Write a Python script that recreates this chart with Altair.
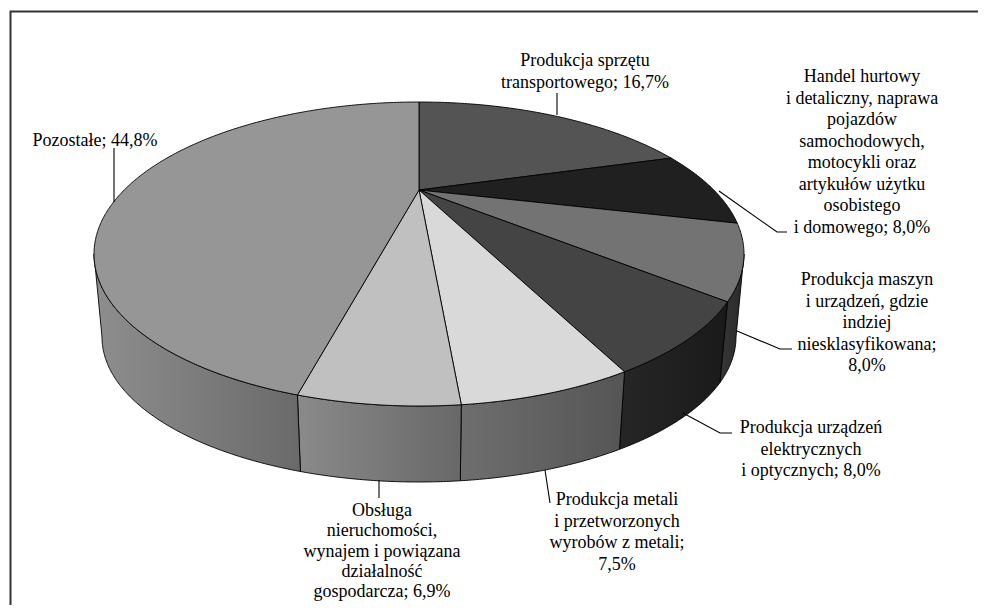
import math
import altair as alt

# ---------------- data ----------------
CATEGORIES = [
    "Produkcja sprzętu transportowego",
    "Handel hurtowy i detaliczny",
    "Produkcja maszyn i urządzeń",
    "Produkcja urządzeń elektrycznych i optycznych",
    "Produkcja metali i przetworzonych wyrobów z metali",
    "Obsługa nieruchomości",
    "Pozostałe",
]
SHARES = [16.7, 8.0, 8.0, 8.0, 7.5, 6.9, 44.8]
LABEL_LINES = [
    ["Produkcja sprzętu", "transportowego; {p}"],
    ["Handel hurtowy", "i detaliczny, naprawa", "pojazdów", "samochodowych,",
     "motocykli oraz", "artykułów użytku", "osobistego", "i domowego; {p}"],
    ["Produkcja  maszyn", "i urządzeń, gdzie", "indziej", "niesklasyfikowana;", "{p}"],
    ["Produkcja urządzeń", "elektrycznych", "i optycznych; {p}"],
    ["Produkcja metali", "i przetworzonych", "wyrobów z metali;", "{p}"],
    ["Obsługa", "nieruchomości,", "wynajem i powiązana", "działalność", "gospodarcza; {p}"],
    ["Pozostałe; {p}"],
]

# ---------------- styles / layout ----------------
TOP_COLORS = ["#545454", "#202020", "#737373", "#444444", "#d9d9d9", "#c0c0c0", "#969696"]
SIDE_COLORS = [("#3a3a3a", "#2a2a2a"), ("#1a1a1a", "#141414"), ("#363636", "#2a2a2a"),
               ("#262626", "#1a1a1a"), ("#6e6e6e", "#555555"), ("#8a8a8a", "#686868"),
               ("#8e8e8e", "#6a6a6a")]
LABEL_ANCHORS = [(585, 61), (862, 77), (867, 280), (811, 428), (617, 500), (382, 511), (95, 141)]
LABEL_LINE_H = [21.5, 21.5, 21.5, 21.5, 21.5, 20.25, 21.5]
LEADERS = [
    [(557, 93), (557, 115)],
    [(719, 191), (777, 232), (787, 232)],
    [(737, 331), (780, 349), (792, 349)],
    [(683, 413), (720, 433), (732, 433)],
    [(545, 470), (550, 503)],
    [(379, 480), (379, 498)],
    [(114, 202), (114, 148)],
]
OX, OY = 8, 8           # page margin
W, H = 970, 597
CX = 419
APEX_Y = 190
CY_TOP, RX_TOP, RY_TOP = 254, 325, 152
CY_BOT, RX_BOT, RY_BOT = 337, 317, 145
PERSP = 0.187           # angular distortion of the tilted view


def phi(theta):
    return theta - PERSP * math.sin(theta)


def top_pt(p):
    return [CX + RX_TOP * math.sin(p) - OX, CY_TOP - RY_TOP * math.cos(p) - OY]


def bot_pt(p):
    return [CX + RX_BOT * math.sin(p) - OX, CY_BOT - RY_BOT * math.cos(p) - OY]


def arc(fn, a, b):
    n = max(2, int(abs(b - a) / math.radians(0.5)) + 1)
    return [fn(a + (b - a) * i / (n - 1)) for i in range(n)]


def fmt(v):
    return f"{v:.1f}".replace(".", ",") + "%"


total = sum(SHARES)
cum = 0.0
top_feats = []
side_layers = []
proj = dict(type="identity", scale=1, translate=[0, 0])

for i, (cat, v) in enumerate(zip(CATEGORIES, SHARES)):
    t0 = cum / total * 2 * math.pi
    cum += v
    t1 = cum / total * 2 * math.pi
    p0, p1 = phi(t0), phi(t1)
    apex = [CX - OX, APEX_Y - OY]
    ring = [apex] + arc(top_pt, p0, p1) + [apex]
    top_feats.append({"type": "Feature",
                      "geometry": {"type": "Polygon", "coordinates": [ring]},
                      "properties": {"name": cat, "color": TOP_COLORS[i]}})
    # visible side wall: front half (phi in [pi/2, 3pi/2])
    a = max(p0, math.pi / 2)
    b = min(p1, 3 * math.pi / 2)
    if b > a:
        sring = arc(top_pt, a, b) + arc(bot_pt, b, a)
        sring.append(sring[0])
        feat = {"type": "Feature",
                "geometry": {"type": "Polygon", "coordinates": [sring]},
                "properties": {"name": cat}}
        left, right = SIDE_COLORS[i]
        grad = alt.LinearGradient(
            gradient="linear",
            stops=[alt.GradientStop(color=left, offset=0), alt.GradientStop(color=right, offset=1)],
            x1=0, x2=1, y1=0, y2=0)
        side_layers.append(
            alt.Chart(alt.Data(values=[feat])).mark_geoshape(
                fill=grad, stroke="#000000", strokeWidth=0.9, strokeJoin="round"
            ).project(**proj)
        )

tops = alt.Chart(alt.Data(values=top_feats)).mark_geoshape(
    stroke="#000000", strokeWidth=0.9, strokeJoin="round"
).encode(
    fill=alt.Fill("properties.color:N", scale=None)
).project(**proj)

leader_feats = [{"type": "Feature",
                 "geometry": {"type": "LineString",
                              "coordinates": [[x - OX, y - OY] for x, y in pts]},
                 "properties": {"name": CATEGORIES[k]}}
                for k, pts in enumerate(LEADERS)]
leaders = alt.Chart(alt.Data(values=leader_feats)).mark_geoshape(
    filled=False, stroke="#000000", strokeWidth=1.1
).project(**proj)

frame_feat = [{"type": "Feature",
               "geometry": {"type": "LineString",
                            "coordinates": [[10.5 - OX, 640 - OY], [10.5 - OX, 11.5 - OY],
                                            [1000 - OX, 11.5 - OY]]},
               "properties": {"name": "frame"}}]
frame = alt.Chart(alt.Data(values=frame_feat)).mark_geoshape(
    filled=False, stroke="#333333", strokeWidth=2
).project(**proj)

rows = []
for k, lines in enumerate(LABEL_LINES):
    x0, y0 = LABEL_ANCHORS[k]
    for j, ln in enumerate(lines):
        rows.append({"lon": x0 - OX, "lat": y0 + j * LABEL_LINE_H[k] - OY,
                     "text": ln.replace("{p}", fmt(SHARES[k]))})
labels = alt.Chart(alt.Data(values=rows)).mark_text(
    font="Liberation Serif", fontSize=18, align="center", baseline="middle", color="#000000"
).encode(
    longitude="lon:Q", latitude="lat:Q", text="text:N"
).project(**proj)

chart = alt.layer(frame, *side_layers, tops, leaders, labels).properties(
    width=W, height=H, padding=0, autosize="none", background="#ffffff"
).configure_view(strokeWidth=0)

chart.save("out.html", embed_options={"renderer": "svg", "actions": False})
